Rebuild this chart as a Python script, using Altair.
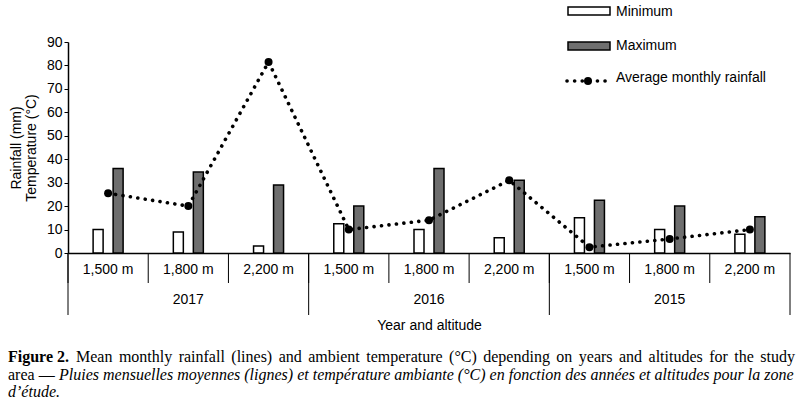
import altair as alt
import pandas as pd

# Site data: three years x three altitudes
years = ["2017", "2016", "2015"]
altitudes = ["1,500 m", "1,800 m", "2,200 m"]
temp_min = [10, 9, 3, 12.5, 10, 6.5, 15, 10, 8]
temp_max = [36, 34.5, 29, 20, 36, 31, 22.5, 20, 15.5]
rainfall = [25.5, 20, 81.5, 10, 14, 31, 2.5, 6, 10]
y_ticks = list(range(0, 91, 10))

W, H = 722, 211
LEFT, TOP = 68, 42
SANS = "Liberation Sans"
SERIF = "Liberation Serif"
STEP = W / 9

keys = [f"{y} {a}" for y in years for a in altitudes]
site = pd.DataFrame({
    "key": keys,
    "year": [y for y in years for _ in altitudes],
    "altitude": [a for _ in years for a in altitudes],
    "Minimum": temp_min,
    "Maximum": temp_max,
    "rain": rainfall,
})
bars_df = site.melt(id_vars=["key"], value_vars=["Minimum", "Maximum"],
                    var_name="series", value_name="temp")

x_scale = alt.Scale(domain=keys, paddingInner=0, paddingOuter=0)
y_scale = alt.Scale(domain=[0, 90], nice=False)
# the two bars sit 10 px either side of the category centre, 10 px wide each
off_scale = alt.Scale(domain=["Minimum", "Maximum"], range=[STEP / 2 - 15, STEP / 2 + 15],
                      paddingInner=0.5, paddingOuter=0)

x_axis = alt.Axis(labels=False, ticks=False, title="Year and altitude",
                  titlePadding=65, titleFontSize=14, titleFontWeight="normal",
                  titleFont=SANS, titleColor="black", domainColor="black", domainWidth=1.5)
y_axis = alt.Axis(values=y_ticks, tickSize=4, tickColor="black", labelPadding=2,
                  labelFontSize=14, labelFont=SANS, labelColor="black", labelOverlap=False,
                  title=["Rainfall (mm)", "Temperature (°C)"], titleFontSize=14,
                  titleFont=SANS, titleFontWeight="normal", titleColor="black",
                  titlePadding=8, titleLineHeight=15, grid=False,
                  domainColor="black", domainWidth=1.5)

X = alt.X("key:N", scale=x_scale, axis=x_axis)

bars = alt.Chart(bars_df).mark_bar(stroke="black", strokeWidth=1.5).encode(
    x=X,
    xOffset=alt.XOffset("series:N", scale=off_scale),
    y=alt.Y("temp:Q", scale=y_scale, axis=y_axis),
    fill=alt.Fill("series:N", scale=alt.Scale(domain=["Minimum", "Maximum"],
                                              range=["white", "#6e6e6e"]), legend=None),
)

base = alt.Chart(site)
rain_y = alt.Y("rain:Q", scale=y_scale, axis=y_axis)
rain_line = base.mark_line(color="black", strokeWidth=3.6, strokeDash=[0.1, 7.4],
                           strokeCap="round").encode(x=X, y=rain_y)
rain_pts = base.mark_point(filled=True, color="black", size=64, opacity=1).encode(
    x=X, y=rain_y)

# Two-level category table below the axis
alt_sep = base.mark_rule(color="black", strokeWidth=1).encode(
    x=alt.X("key:N", scale=x_scale, axis=x_axis, bandPosition=0),
    y=alt.value(H), y2=alt.value(H + 30))
year_sep = base.transform_filter(alt.datum.altitude == altitudes[0]).mark_rule(
    color="black", strokeWidth=1).encode(
    x=alt.X("key:N", scale=x_scale, axis=x_axis, bandPosition=0),
    y=alt.value(H), y2=alt.value(H + 62))
end_sep = base.transform_filter(alt.datum.key == keys[-1]).mark_rule(
    color="black", strokeWidth=1).encode(
    x=alt.X("key:N", scale=x_scale, axis=x_axis, bandPosition=1),
    y=alt.value(H), y2=alt.value(H + 62))
alt_lbl = base.mark_text(font=SANS, fontSize=14, color="black").encode(
    x=X, y=alt.value(H + 17), text="altitude:N")
year_lbl = base.transform_filter(alt.datum.altitude == altitudes[1]).mark_text(
    font=SANS, fontSize=14, color="black").encode(
    x=X, y=alt.value(H + 47), text="year:N")

# Legend drawn in the upper right corner
one = alt.Data(values=[{}])
def swatch(fill, y0):
    return alt.Chart(one).mark_rect(fill=fill, stroke="black", strokeWidth=1.5).encode(
        x=alt.value(500), x2=alt.value(542), y=alt.value(y0), y2=alt.value(y0 + 8))
def legend_text(label, y0):
    return alt.Chart(one).mark_text(font=SANS, fontSize=14, align="left",
                                    baseline="middle", color="black").encode(
        x=alt.value(548), y=alt.value(y0), text=alt.value(label))
leg_line = alt.Chart(one).mark_rule(color="black", strokeWidth=3.6,
                                    strokeDash=[0.1, 7.5], strokeCap="round").encode(
    x=alt.value(499), x2=alt.value(537.5), y=alt.value(39))
leg_dot = alt.Chart(one).mark_point(filled=True, color="black", size=64, opacity=1).encode(
    x=alt.value(520), y=alt.value(39))
legend = [swatch("white", -35), legend_text("Minimum", -30),
          swatch("#6e6e6e", 0), legend_text("Maximum", 4),
          leg_line, leg_dot, legend_text("Average monthly rainfall", 36)]

# Figure caption (Times-metric serif, 16 px); the first line is set justified
CAP_SIZE = 16
TIMES = {" ": 250, "(": 333, ")": 333, ".": 250, "°": 400, "C": 667, "M": 889,
         "a": 444, "b": 500, "c": 444, "d": 500, "e": 444, "f": 333, "g": 500,
         "h": 500, "i": 278, "l": 278, "m": 778, "n": 500, "o": 500, "p": 500,
         "r": 333, "s": 389, "t": 278, "u": 500, "y": 500}

def text_width(s):
    return sum(TIMES.get(c, 500) for c in s) * CAP_SIZE / 1000

def justify(text, x0, x1):
    words = text.split()
    widths = [text_width(w) for w in words]
    gap = (x1 - x0 - sum(widths)) / (len(words) - 1)
    out, x = [], x0
    for w, wd in zip(words, widths):
        out.append((w, x))
        x += wd + gap
    return out

def cap(text, x, y, weight="normal", style="normal"):
    return alt.Chart(one).mark_text(font=SERIF, fontSize=CAP_SIZE, align="left",
                                    baseline="alphabetic", color="black",
                                    fontWeight=weight, fontStyle=style).encode(
        x=alt.value(x - LEFT), y=alt.value(y - TOP), text=alt.value(text))

line1 = ("Mean monthly rainfall (lines) and ambient temperature (°C) depending on "
         "years and altitudes for the study")
caption = [cap("Figure 2.", 8, 362, weight="bold")]
caption += [cap(word, x, 362) for word, x in justify(line1, 76, 795)]
caption += [
    cap("area —", 8, 380),
    cap("Pluies mensuelles moyennes (lignes) et température ambiante (°C) en fonction "
        "des années et altitudes pour la zone", 59, 380, style="italic"),
    cap("d’étude.", 8, 397, style="italic"),
]

chart = alt.layer(
    bars, alt_sep, year_sep, end_sep, alt_lbl, year_lbl, rain_line, rain_pts,
    *legend, *caption
).properties(
    width=W, height=H,
    autosize=alt.AutoSizeParams(type="none"),
    padding={"left": LEFT, "top": TOP, "right": 799 - LEFT - W, "bottom": 402 - TOP - H},
    background="white",
).configure_view(stroke=None)

chart.save("out.html", embed_options={"renderer": "svg", "actions": False})
